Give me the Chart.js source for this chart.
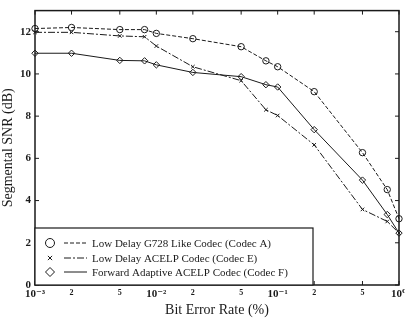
<!DOCTYPE html>
<html>
<head>
<meta charset="utf-8">
<script src="https://cdn.jsdelivr.net/npm/chart.js@4"></script>
<style>
  html, body { margin: 0; padding: 0; background: #fff; }
  #wrap { width: 405px; height: 319px; }
</style>
</head>
<body>
<div id="wrap"><canvas id="chart" width="405" height="319"></canvas></div>
<script>
// Bit error rates (%) at which each codec was measured
const berRates = [0.001, 0.002, 0.005, 0.008, 0.01, 0.02, 0.05, 0.08, 0.1, 0.2, 0.5, 0.8, 1];
const codecA = [12.15, 12.2, 12.1, 12.1, 11.92, 11.67, 11.29, 10.62, 10.34, 9.16, 6.27, 4.52, 3.14];
const codecE = [11.97, 11.97, 11.8, 11.76, 11.32, 10.34, 9.68, 8.3, 8.03, 6.64, 3.58, 3.01, 2.46];
const codecF = [10.98, 10.98, 10.64, 10.62, 10.43, 10.07, 9.87, 9.49, 9.38, 7.36, 4.97, 3.34, 2.46];
const seriesNames = [
  'Low Delay G728 Like Codec (Codec A)',
  'Low Delay ACELP Codec (Codec E)',
  'Forward Adaptive ACELP Codec (Codec F)'
];
const xTickValues = [0.001, 0.002, 0.005, 0.01, 0.02, 0.05, 0.1, 0.2, 0.5, 1];
const xTickLabels = ['10\u207B\u00B3', '2', '5', '10\u207B\u00B2', '2', '5', '10\u207B\u00B9', '2', '5', '10\u2070'];
const yTickValues = [0, 2, 4, 6, 8, 10, 12];

const ink = '#1a1a1a';
const serif = '"Liberation Serif", "DejaVu Serif", serif';

function toPoints(values) {
  return berRates.map((x, i) => ({ x: x, y: values[i] }));
}

// frame, inward ticks and the boxed legend inside the plot
const framePlugin = {
  id: 'frame',
  afterDatasetsDraw(chart) {
    const ctx = chart.ctx;
    const area = chart.chartArea;
    const xs = chart.scales.x;
    const ys = chart.scales.y;
    ctx.save();
    ctx.strokeStyle = ink;
    ctx.lineWidth = 1.5;
    ctx.strokeRect(area.left, area.top, area.right - area.left, area.bottom - area.top);

    ctx.lineWidth = 1;
    ctx.beginPath();
    yTickValues.forEach(v => {
      const py = ys.getPixelForValue(v);
      ctx.moveTo(area.left, py); ctx.lineTo(area.left + 4, py);
      ctx.moveTo(area.right, py); ctx.lineTo(area.right - 4, py);
    });
    xTickValues.forEach(v => {
      const px = xs.getPixelForValue(v);
      ctx.moveTo(px, area.bottom); ctx.lineTo(px, area.bottom - 4);
      ctx.moveTo(px, area.top); ctx.lineTo(px, area.top + 4);
    });
    ctx.stroke();

    // legend box
    const boxRight = 313, boxTop = 228;
    ctx.fillStyle = '#fff';
    ctx.fillRect(area.left, boxTop, boxRight - area.left, area.bottom - boxTop);
    ctx.lineWidth = 1.2;
    ctx.strokeRect(area.left, boxTop, boxRight - area.left, area.bottom - boxTop);

    const rows = [243, 258, 272];
    ctx.font = '11px ' + serif;
    ctx.textBaseline = 'middle';
    chart.data.datasets.forEach((ds, i) => {
      const y = rows[i];
      ctx.strokeStyle = ink;
      ctx.lineWidth = 1;
      ctx.setLineDash(ds.borderDash || []);
      ctx.beginPath();
      ctx.moveTo(64, y); ctx.lineTo(87, y);
      ctx.stroke();
      ctx.setLineDash([]);
      ctx.fillStyle = '#fff';
      Chart.helpers.drawPoint(ctx, {
        pointStyle: ds.pointStyle,
        radius: ds.pointStyle === 'crossRot' ? 3 : 4.5,
        borderWidth: 1
      }, 50, y);
      ctx.fillStyle = ink;
      ctx.fillText(ds.label, 92, y + 1);
    });
    ctx.restore();
  }
};

const common = {
  borderColor: ink,
  borderWidth: 1,
  pointBorderColor: ink,
  pointBackgroundColor: 'rgba(255,255,255,0)',
  pointBorderWidth: 1,
  tension: 0,
  clip: false
};

new Chart(document.getElementById('chart'), {
  type: 'line',
  data: {
    datasets: [
      Object.assign({}, common, {
        label: seriesNames[0],
        data: toPoints(codecA),
        pointStyle: 'circle',
        pointRadius: 3.2,
        borderDash: [4, 2]
      }),
      Object.assign({}, common, {
        label: seriesNames[1],
        data: toPoints(codecE),
        pointStyle: 'crossRot',
        pointRadius: 2.5,
        borderDash: [7, 2, 2, 2]
      }),
      Object.assign({}, common, {
        label: seriesNames[2],
        data: toPoints(codecF),
        pointStyle: 'rectRot',
        pointRadius: 3.2
      })
    ]
  },
  options: {
    responsive: false,
    animation: false,
    layout: { padding: { top: 8, right: 6, left: 0, bottom: 0 } },
    plugins: {
      legend: { display: false },
      tooltip: { enabled: false }
    },
    scales: {
      x: {
        type: 'logarithmic',
        min: 0.001,
        max: 1,
        afterBuildTicks: scale => {
          scale.ticks = xTickValues.map(v => ({ value: v }));
        },
        afterFit: scale => {
          scale.height = 34;
          scale.paddingLeft = 0;
          scale.paddingRight = 0;
        },
        grid: { display: false, drawTicks: false },
        border: { display: false },
        ticks: {
          autoSkip: false,
          maxRotation: 0,
          padding: 3,
          color: ink,
          font: ctx => {
            const major = [0.001, 0.01, 0.1, 1].includes(ctx.tick && ctx.tick.value);
            return { family: serif, size: major ? 11 : 8, weight: 'bold' };
          },
          callback: (value, index) => xTickLabels[index]
        },
        title: {
          display: true,
          text: 'Bit Error Rate (%)',
          color: ink,
          font: { family: serif, size: 14 },
          padding: { top: 0, bottom: 0 }
        }
      },
      y: {
        min: 0,
        max: 13,
        afterBuildTicks: scale => {
          scale.ticks = yTickValues.map(v => ({ value: v }));
        },
        afterFit: scale => { scale.width = 35; },
        grid: { display: false, drawTicks: false },
        border: { display: false },
        ticks: {
          padding: 4,
          color: ink,
          font: { family: serif, size: 11, weight: 'bold' }
        },
        title: {
          display: true,
          text: 'Segmental SNR (dB)',
          color: ink,
          font: { family: serif, size: 14 },
          padding: { top: 0, bottom: 2 }
        }
      }
    }
  },
  plugins: [framePlugin]
});
</script>
</body>
</html>
